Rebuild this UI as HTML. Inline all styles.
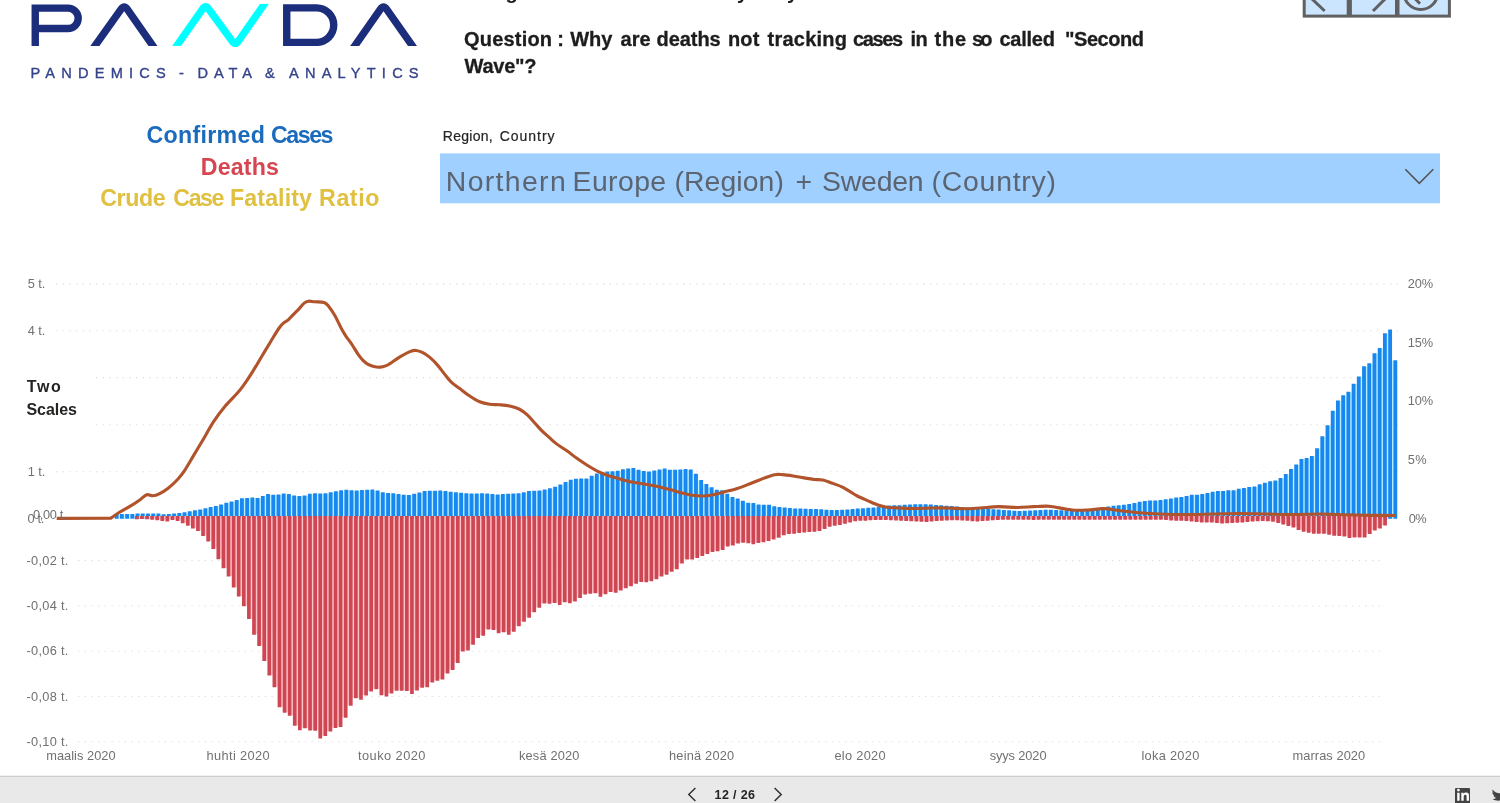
<!DOCTYPE html>
<html><head><meta charset="utf-8"><title>PANDA</title>
<style>html,body{margin:0;padding:0;background:#fff;overflow:hidden}svg{display:block}text{font-family:"Liberation Sans",sans-serif}</style>
</head><body>
<svg width="1500" height="803" viewBox="0 0 1500 803" style="will-change:transform">
<rect width="1500" height="803" fill="#fff"/>
<g stroke="#e0e0e0" stroke-width="1.1" stroke-dasharray="1.4 5.27" fill="none">
<path d="M56 283.9H1398"/>
<path d="M56 330.8H1398"/>
<path d="M96 377.6H1398"/>
<path d="M96 424.7H1398"/>
<path d="M56 471.8H1398"/>
<path d="M78 560.6H1383"/>
<path d="M78 606.0H1383"/>
<path d="M78 651.2H1383"/>
<path d="M78 696.5H1383"/>
<path d="M78 741.7H1383"/>
</g>
<path fill="#b8f0ff" d="M118.3 514.5h1.97V518.8h-1.97zM123.52 514.5h1.97V518.8h-1.97zM128.74 514.5h1.97V518.8h-1.97zM133.96 514.5h1.97V518.8h-1.97zM139.18 514h1.97V518.8h-1.97zM144.4 514h1.97V518.8h-1.97zM149.61 514h1.97V518.8h-1.97zM154.83 514h1.97V518.8h-1.97zM160.05 514.8h1.97V518.8h-1.97zM165.27 514.8h1.97V518.8h-1.97zM170.49 514.5h1.97V518.8h-1.97zM175.71 514h1.97V518.8h-1.97zM180.93 513.5h1.97V518.8h-1.97zM186.15 512.7h1.97V518.8h-1.97zM191.37 511.8h1.97V518.8h-1.97zM196.59 510.8h1.97V518.8h-1.97zM201.8 509.9h1.97V518.8h-1.97zM207.02 508.8h1.97V518.8h-1.97zM212.24 507.5h1.97V518.8h-1.97zM217.46 506.5h1.97V518.8h-1.97zM222.68 504.9h1.97V518.8h-1.97zM227.9 503.3h1.97V518.8h-1.97zM233.12 502h1.97V518.8h-1.97zM238.34 500.6h1.97V518.8h-1.97zM243.56 498.8h1.97V518.8h-1.97zM248.78 498.5h1.97V518.8h-1.97zM253.99 498.5h1.97V518.8h-1.97zM259.21 498.5h1.97V518.8h-1.97zM264.43 496.4h1.97V518.8h-1.97zM269.65 495.3h1.97V518.8h-1.97zM274.87 495.3h1.97V518.8h-1.97zM280.09 495.01h1.97V518.8h-1.97zM285.31 494.5h1.97V518.8h-1.97zM290.53 495.9h1.97V518.8h-1.97zM295.75 496.5h1.97V518.8h-1.97zM300.97 496.5h1.97V518.8h-1.97zM306.18 495.98h1.97V518.8h-1.97zM311.4 494.24h1.97V518.8h-1.97zM316.62 494.1h1.97V518.8h-1.97zM321.84 494.1h1.97V518.8h-1.97zM327.06 493.77h1.97V518.8h-1.97zM332.28 492.68h1.97V518.8h-1.97zM337.5 491.82h1.97V518.8h-1.97zM342.72 490.81h1.97V518.8h-1.97zM347.94 490.68h1.97V518.8h-1.97zM353.16 490.92h1.97V518.8h-1.97zM358.37 490.92h1.97V518.8h-1.97zM363.59 490.44h1.97V518.8h-1.97zM368.81 490.18h1.97V518.8h-1.97zM374.03 491.12h1.97V518.8h-1.97zM379.25 492.82h1.97V518.8h-1.97zM384.47 493.56h1.97V518.8h-1.97zM389.69 493.83h1.97V518.8h-1.97zM394.91 494.48h1.97V518.8h-1.97zM400.13 495.17h1.97V518.8h-1.97zM405.35 495.44h1.97V518.8h-1.97zM410.56 495.44h1.97V518.8h-1.97zM415.78 494.22h1.97V518.8h-1.97zM421 492.91h1.97V518.8h-1.97zM426.22 491.52h1.97V518.8h-1.97zM431.44 491.33h1.97V518.8h-1.97zM436.66 491.15h1.97V518.8h-1.97zM441.88 491.57h1.97V518.8h-1.97zM447.1 492.22h1.97V518.8h-1.97zM452.32 492.76h1.97V518.8h-1.97zM457.54 493.28h1.97V518.8h-1.97zM462.75 493.8h1.97V518.8h-1.97zM467.97 494.1h1.97V518.8h-1.97zM473.19 494.1h1.97V518.8h-1.97zM478.41 493.9h1.97V518.8h-1.97zM483.63 494.02h1.97V518.8h-1.97zM488.85 494.54h1.97V518.8h-1.97zM494.07 494.91h1.97V518.8h-1.97zM499.29 494.91h1.97V518.8h-1.97zM504.51 494.59h1.97V518.8h-1.97zM509.73 494.28h1.97V518.8h-1.97zM514.94 494h1.97V518.8h-1.97zM520.16 493.74h1.97V518.8h-1.97zM525.38 492.81h1.97V518.8h-1.97zM530.6 491.48h1.97V518.8h-1.97zM535.82 491.22h1.97V518.8h-1.97zM541.04 490.95h1.97V518.8h-1.97zM546.26 489.91h1.97V518.8h-1.97zM551.48 488.86h1.97V518.8h-1.97zM556.7 487.14h1.97V518.8h-1.97zM561.92 485.02h1.97V518.8h-1.97zM567.13 482.41h1.97V518.8h-1.97zM572.35 480.35h1.97V518.8h-1.97zM577.57 479.13h1.97V518.8h-1.97zM582.79 478.97h1.97V518.8h-1.97zM588.01 478.97h1.97V518.8h-1.97zM593.23 476.19h1.97V518.8h-1.97zM598.45 474.05h1.97V518.8h-1.97zM603.67 472.42h1.97V518.8h-1.97zM608.89 471.88h1.97V518.8h-1.97zM614.11 471.67h1.97V518.8h-1.97zM619.32 471.22h1.97V518.8h-1.97zM624.54 469.83h1.97V518.8h-1.97zM629.76 468.9h1.97V518.8h-1.97zM634.98 470.27h1.97V518.8h-1.97zM640.2 471.38h1.97V518.8h-1.97zM645.42 471.98h1.97V518.8h-1.97zM650.64 471.98h1.97V518.8h-1.97zM655.86 471.11h1.97V518.8h-1.97zM661.08 469.92h1.97V518.8h-1.97zM666.3 470.14h1.97V518.8h-1.97zM671.51 470.17h1.97V518.8h-1.97zM676.73 470.17h1.97V518.8h-1.97zM681.95 469.93h1.97V518.8h-1.97zM687.17 470.08h1.97V518.8h-1.97zM692.39 474.18h1.97V518.8h-1.97zM697.61 480.46h1.97V518.8h-1.97zM702.83 484.55h1.97V518.8h-1.97zM708.05 487.65h1.97V518.8h-1.97zM713.27 490.19h1.97V518.8h-1.97zM718.49 490.75h1.97V518.8h-1.97zM723.7 494.14h1.97V518.8h-1.97zM728.92 497.54h1.97V518.8h-1.97zM734.14 498.9h1.97V518.8h-1.97zM739.36 501.2h1.97V518.8h-1.97zM744.58 503.3h1.97V518.8h-1.97zM749.8 503.5h1.97V518.8h-1.97zM755.02 505.11h1.97V518.8h-1.97zM760.24 505.37h1.97V518.8h-1.97zM765.46 505.37h1.97V518.8h-1.97zM770.68 506.65h1.97V518.8h-1.97zM775.89 507.38h1.97V518.8h-1.97zM781.11 508.11h1.97V518.8h-1.97zM786.33 508.59h1.97V518.8h-1.97zM791.55 508.91h1.97V518.8h-1.97zM796.77 509.11h1.97V518.8h-1.97zM801.99 509.32h1.97V518.8h-1.97zM807.21 509.45h1.97V518.8h-1.97zM812.43 509.55h1.97V518.8h-1.97zM817.65 509.73h1.97V518.8h-1.97zM822.87 510.15h1.97V518.8h-1.97zM828.08 510.57h1.97V518.8h-1.97zM833.3 510.57h1.97V518.8h-1.97zM838.52 510.56h1.97V518.8h-1.97zM843.74 510.35h1.97V518.8h-1.97zM848.96 510.1h1.97V518.8h-1.97zM854.18 509.58h1.97V518.8h-1.97zM859.4 509.06h1.97V518.8h-1.97zM864.62 508.65h1.97V518.8h-1.97zM869.84 508.34h1.97V518.8h-1.97zM875.06 508.02h1.97V518.8h-1.97zM880.27 507.29h1.97V518.8h-1.97zM885.49 506.56h1.97V518.8h-1.97zM890.71 506.07h1.97V518.8h-1.97zM895.93 505.86h1.97V518.8h-1.97zM901.15 505.65h1.97V518.8h-1.97zM906.37 505.35h1.97V518.8h-1.97zM911.59 505.04h1.97V518.8h-1.97zM916.81 504.83h1.97V518.8h-1.97zM922.03 504.83h1.97V518.8h-1.97zM927.25 505.08h1.97V518.8h-1.97zM932.46 505.4h1.97V518.8h-1.97zM937.68 505.74h1.97V518.8h-1.97zM942.9 506.15h1.97V518.8h-1.97zM948.12 506.57h1.97V518.8h-1.97zM953.34 507.06h1.97V518.8h-1.97zM958.56 507.58h1.97V518.8h-1.97zM963.78 508.08h1.97V518.8h-1.97zM969 508.39h1.97V518.8h-1.97zM974.22 508.7h1.97V518.8h-1.97zM979.44 509.02h1.97V518.8h-1.97zM984.65 509.33h1.97V518.8h-1.97zM989.87 509.64h1.97V518.8h-1.97zM995.09 510.06h1.97V518.8h-1.97zM1000.31 510.48h1.97V518.8h-1.97zM1005.53 510.85h1.97V518.8h-1.97zM1010.75 511.16h1.97V518.8h-1.97zM1015.97 511.47h1.97V518.8h-1.97zM1021.19 511.47h1.97V518.8h-1.97zM1026.41 511.31h1.97V518.8h-1.97zM1031.62 511.1h1.97V518.8h-1.97zM1036.84 510.85h1.97V518.8h-1.97zM1042.06 510.54h1.97V518.8h-1.97zM1047.28 510.34h1.97V518.8h-1.97zM1052.5 510.54h1.97V518.8h-1.97zM1057.72 510.78h1.97V518.8h-1.97zM1062.94 511.09h1.97V518.8h-1.97zM1068.16 511.41h1.97V518.8h-1.97zM1073.38 511.41h1.97V518.8h-1.97zM1078.6 511.35h1.97V518.8h-1.97zM1083.82 511.15h1.97V518.8h-1.97zM1089.03 510.82h1.97V518.8h-1.97zM1094.25 509.77h1.97V518.8h-1.97zM1099.47 508.73h1.97V518.8h-1.97zM1104.69 507.81h1.97V518.8h-1.97zM1109.91 506.97h1.97V518.8h-1.97zM1115.13 506.15h1.97V518.8h-1.97zM1120.35 505.74h1.97V518.8h-1.97zM1125.57 505.32h1.97V518.8h-1.97zM1130.79 504.6h1.97V518.8h-1.97zM1136 503.56h1.97V518.8h-1.97zM1141.22 502.35h1.97V518.8h-1.97zM1146.44 501.47h1.97V518.8h-1.97zM1151.66 501.08h1.97V518.8h-1.97zM1156.88 500.99h1.97V518.8h-1.97zM1162.1 500.5h1.97V518.8h-1.97zM1167.32 499.63h1.97V518.8h-1.97zM1172.54 498.97h1.97V518.8h-1.97zM1177.76 498.09h1.97V518.8h-1.97zM1182.98 497.44h1.97V518.8h-1.97zM1188.19 496.54h1.97V518.8h-1.97zM1193.41 495.31h1.97V518.8h-1.97zM1198.63 495.31h1.97V518.8h-1.97zM1203.85 494.41h1.97V518.8h-1.97zM1209.07 493.51h1.97V518.8h-1.97zM1214.29 492.32h1.97V518.8h-1.97zM1219.51 491.42h1.97V518.8h-1.97zM1224.73 491.42h1.97V518.8h-1.97zM1229.95 490.82h1.97V518.8h-1.97zM1235.17 490.82h1.97V518.8h-1.97zM1240.38 489.33h1.97V518.8h-1.97zM1245.6 488.43h1.97V518.8h-1.97zM1250.82 487.53h1.97V518.8h-1.97zM1256.04 486.94h1.97V518.8h-1.97zM1261.26 484.84h1.97V518.8h-1.97zM1266.48 483.35h1.97V518.8h-1.97zM1271.7 481.85h1.97V518.8h-1.97zM1276.92 480.95h1.97V518.8h-1.97zM1282.14 478.56h1.97V518.8h-1.97zM1287.36 474.38h1.97V518.8h-1.97zM1292.58 469.59h1.97V518.8h-1.97zM1297.79 465.11h1.97V518.8h-1.97zM1303.01 459.42h1.97V518.8h-1.97zM1308.23 458.53h1.97V518.8h-1.97zM1313.45 456.43h1.97V518.8h-1.97zM1318.67 448.66h1.97V518.8h-1.97zM1323.89 436.7h1.97V518.8h-1.97zM1329.11 425.63h1.97V518.8h-1.97zM1334.33 411.28h1.97V518.8h-1.97zM1339.55 401.11h1.97V518.8h-1.97zM1344.77 395.73h1.97V518.8h-1.97zM1349.98 392.14h1.97V518.8h-1.97zM1355.2 384.36h1.97V518.8h-1.97zM1360.42 376.89h1.97V518.8h-1.97zM1365.64 366.72h1.97V518.8h-1.97zM1370.86 363.73h1.97V518.8h-1.97zM1376.08 353.86h1.97V518.8h-1.97zM1381.3 348.48h1.97V518.8h-1.97zM1386.52 333.83h1.97V518.8h-1.97zM1391.74 360.74h1.97V518.8h-1.97z"/>
<path fill="#1888f0" d="M114.75 514h3.85V518.8h-3.85zM119.97 514h3.85V518.8h-3.85zM125.19 514h3.85V518.8h-3.85zM130.41 514h3.85V518.8h-3.85zM135.63 513.5h3.85V518.8h-3.85zM140.84 513.5h3.85V518.8h-3.85zM146.06 513.5h3.85V518.8h-3.85zM151.28 513.5h3.85V518.8h-3.85zM156.5 513.5h3.85V518.8h-3.85zM161.72 514.3h3.85V518.8h-3.85zM166.94 514h3.85V518.8h-3.85zM172.16 513.5h3.85V518.8h-3.85zM177.38 513h3.85V518.8h-3.85zM182.6 512.2h3.85V518.8h-3.85zM187.82 511.3h3.85V518.8h-3.85zM193.03 510.3h3.85V518.8h-3.85zM198.25 509.4h3.85V518.8h-3.85zM203.47 508.3h3.85V518.8h-3.85zM208.69 507h3.85V518.8h-3.85zM213.91 506h3.85V518.8h-3.85zM219.13 504.4h3.85V518.8h-3.85zM224.35 502.8h3.85V518.8h-3.85zM229.57 501.5h3.85V518.8h-3.85zM234.79 500.1h3.85V518.8h-3.85zM240.01 498.3h3.85V518.8h-3.85zM245.22 498h3.85V518.8h-3.85zM250.44 497.5h3.85V518.8h-3.85zM255.66 498h3.85V518.8h-3.85zM260.88 495.9h3.85V518.8h-3.85zM266.1 493.88h3.85V518.8h-3.85zM271.32 494.8h3.85V518.8h-3.85zM276.54 494.51h3.85V518.8h-3.85zM281.76 493.6h3.85V518.8h-3.85zM286.98 494h3.85V518.8h-3.85zM292.2 495.4h3.85V518.8h-3.85zM297.42 496h3.85V518.8h-3.85zM302.63 495.48h3.85V518.8h-3.85zM307.85 493.74h3.85V518.8h-3.85zM313.07 493.16h3.85V518.8h-3.85zM318.29 493.6h3.85V518.8h-3.85zM323.51 493.27h3.85V518.8h-3.85zM328.73 492.18h3.85V518.8h-3.85zM333.95 491.32h3.85V518.8h-3.85zM339.17 490.31h3.85V518.8h-3.85zM344.39 489.72h3.85V518.8h-3.85zM349.61 490.18h3.85V518.8h-3.85zM354.82 490.42h3.85V518.8h-3.85zM360.04 489.94h3.85V518.8h-3.85zM365.26 489.68h3.85V518.8h-3.85zM370.48 489.59h3.85V518.8h-3.85zM375.7 490.62h3.85V518.8h-3.85zM380.92 492.32h3.85V518.8h-3.85zM386.14 493.06h3.85V518.8h-3.85zM391.36 493.33h3.85V518.8h-3.85zM396.58 493.98h3.85V518.8h-3.85zM401.8 494.67h3.85V518.8h-3.85zM407.01 494.94h3.85V518.8h-3.85zM412.23 493.72h3.85V518.8h-3.85zM417.45 492.41h3.85V518.8h-3.85zM422.67 491.02h3.85V518.8h-3.85zM427.89 490.83h3.85V518.8h-3.85zM433.11 490.65h3.85V518.8h-3.85zM438.33 490.48h3.85V518.8h-3.85zM443.55 491.07h3.85V518.8h-3.85zM448.77 491.72h3.85V518.8h-3.85zM453.99 492.26h3.85V518.8h-3.85zM459.2 492.78h3.85V518.8h-3.85zM464.42 493.3h3.85V518.8h-3.85zM469.64 493.6h3.85V518.8h-3.85zM474.86 493.4h3.85V518.8h-3.85zM480.08 493.19h3.85V518.8h-3.85zM485.3 493.52h3.85V518.8h-3.85zM490.52 494.04h3.85V518.8h-3.85zM495.74 494.41h3.85V518.8h-3.85zM500.96 494.09h3.85V518.8h-3.85zM506.18 493.78h3.85V518.8h-3.85zM511.39 493.5h3.85V518.8h-3.85zM516.61 493.24h3.85V518.8h-3.85zM521.83 492.31h3.85V518.8h-3.85zM527.05 490.98h3.85V518.8h-3.85zM532.27 490.72h3.85V518.8h-3.85zM537.49 490.45h3.85V518.8h-3.85zM542.71 489.41h3.85V518.8h-3.85zM547.93 488.36h3.85V518.8h-3.85zM553.15 486.64h3.85V518.8h-3.85zM558.37 484.52h3.85V518.8h-3.85zM563.58 481.91h3.85V518.8h-3.85zM568.8 479.85h3.85V518.8h-3.85zM574.02 478.63h3.85V518.8h-3.85zM579.24 478.47h3.85V518.8h-3.85zM584.46 478.47h3.85V518.8h-3.85zM589.68 475.69h3.85V518.8h-3.85zM594.9 473.55h3.85V518.8h-3.85zM600.12 471.92h3.85V518.8h-3.85zM605.34 471.38h3.85V518.8h-3.85zM610.56 471.17h3.85V518.8h-3.85zM615.77 470.72h3.85V518.8h-3.85zM620.99 469.33h3.85V518.8h-3.85zM626.21 468.4h3.85V518.8h-3.85zM631.43 468.03h3.85V518.8h-3.85zM636.65 469.77h3.85V518.8h-3.85zM641.87 470.88h3.85V518.8h-3.85zM647.09 471.48h3.85V518.8h-3.85zM652.31 470.61h3.85V518.8h-3.85zM657.53 469.42h3.85V518.8h-3.85zM662.75 468.6h3.85V518.8h-3.85zM667.96 469.64h3.85V518.8h-3.85zM673.18 469.67h3.85V518.8h-3.85zM678.4 469.43h3.85V518.8h-3.85zM683.62 468.91h3.85V518.8h-3.85zM688.84 469.58h3.85V518.8h-3.85zM694.06 473.68h3.85V518.8h-3.85zM699.28 479.96h3.85V518.8h-3.85zM704.5 484.05h3.85V518.8h-3.85zM709.72 487.15h3.85V518.8h-3.85zM714.94 489.69h3.85V518.8h-3.85zM720.15 490.25h3.85V518.8h-3.85zM725.37 493.64h3.85V518.8h-3.85zM730.59 497.04h3.85V518.8h-3.85zM735.81 498.4h3.85V518.8h-3.85zM741.03 500.7h3.85V518.8h-3.85zM746.25 502.8h3.85V518.8h-3.85zM751.47 503h3.85V518.8h-3.85zM756.69 504.61h3.85V518.8h-3.85zM761.91 504.87h3.85V518.8h-3.85zM767.13 504.87h3.85V518.8h-3.85zM772.34 506.15h3.85V518.8h-3.85zM777.56 506.88h3.85V518.8h-3.85zM782.78 507.61h3.85V518.8h-3.85zM788 508.09h3.85V518.8h-3.85zM793.22 508.41h3.85V518.8h-3.85zM798.44 508.61h3.85V518.8h-3.85zM803.66 508.82h3.85V518.8h-3.85zM808.88 508.95h3.85V518.8h-3.85zM814.1 509.05h3.85V518.8h-3.85zM819.32 509.23h3.85V518.8h-3.85zM824.53 509.65h3.85V518.8h-3.85zM829.75 510.07h3.85V518.8h-3.85zM834.97 510.06h3.85V518.8h-3.85zM840.19 509.85h3.85V518.8h-3.85zM845.41 509.6h3.85V518.8h-3.85zM850.63 509.08h3.85V518.8h-3.85zM855.85 508.56h3.85V518.8h-3.85zM861.07 508.15h3.85V518.8h-3.85zM866.29 507.84h3.85V518.8h-3.85zM871.51 507.52h3.85V518.8h-3.85zM876.72 506.79h3.85V518.8h-3.85zM881.94 506.06h3.85V518.8h-3.85zM887.16 505.57h3.85V518.8h-3.85zM892.38 505.36h3.85V518.8h-3.85zM897.6 505.15h3.85V518.8h-3.85zM902.82 504.85h3.85V518.8h-3.85zM908.04 504.54h3.85V518.8h-3.85zM913.26 504.33h3.85V518.8h-3.85zM918.48 504.33h3.85V518.8h-3.85zM923.7 504.33h3.85V518.8h-3.85zM928.91 504.58h3.85V518.8h-3.85zM934.13 504.9h3.85V518.8h-3.85zM939.35 505.24h3.85V518.8h-3.85zM944.57 505.65h3.85V518.8h-3.85zM949.79 506.07h3.85V518.8h-3.85zM955.01 506.56h3.85V518.8h-3.85zM960.23 507.08h3.85V518.8h-3.85zM965.45 507.58h3.85V518.8h-3.85zM970.67 507.89h3.85V518.8h-3.85zM975.89 508.2h3.85V518.8h-3.85zM981.1 508.52h3.85V518.8h-3.85zM986.32 508.83h3.85V518.8h-3.85zM991.54 509.14h3.85V518.8h-3.85zM996.76 509.56h3.85V518.8h-3.85zM1001.98 509.98h3.85V518.8h-3.85zM1007.2 510.35h3.85V518.8h-3.85zM1012.42 510.66h3.85V518.8h-3.85zM1017.64 510.97h3.85V518.8h-3.85zM1022.86 510.81h3.85V518.8h-3.85zM1028.08 510.6h3.85V518.8h-3.85zM1033.29 510.35h3.85V518.8h-3.85zM1038.51 510.04h3.85V518.8h-3.85zM1043.73 509.73h3.85V518.8h-3.85zM1048.95 509.84h3.85V518.8h-3.85zM1054.17 510.04h3.85V518.8h-3.85zM1059.39 510.28h3.85V518.8h-3.85zM1064.61 510.59h3.85V518.8h-3.85zM1069.83 510.91h3.85V518.8h-3.85zM1075.05 510.85h3.85V518.8h-3.85zM1080.27 510.65h3.85V518.8h-3.85zM1085.48 510.32h3.85V518.8h-3.85zM1090.7 509.27h3.85V518.8h-3.85zM1095.92 508.23h3.85V518.8h-3.85zM1101.14 507.31h3.85V518.8h-3.85zM1106.36 506.47h3.85V518.8h-3.85zM1111.58 505.65h3.85V518.8h-3.85zM1116.8 505.24h3.85V518.8h-3.85zM1122.02 504.82h3.85V518.8h-3.85zM1127.24 504.1h3.85V518.8h-3.85zM1132.45 503.06h3.85V518.8h-3.85zM1137.67 501.85h3.85V518.8h-3.85zM1142.89 500.97h3.85V518.8h-3.85zM1148.11 500.58h3.85V518.8h-3.85zM1153.33 500.49h3.85V518.8h-3.85zM1158.55 500h3.85V518.8h-3.85zM1163.77 499.13h3.85V518.8h-3.85zM1168.99 498.47h3.85V518.8h-3.85zM1174.21 497.59h3.85V518.8h-3.85zM1179.43 496.94h3.85V518.8h-3.85zM1184.64 496.04h3.85V518.8h-3.85zM1189.86 494.81h3.85V518.8h-3.85zM1195.08 494.81h3.85V518.8h-3.85zM1200.3 493.91h3.85V518.8h-3.85zM1205.52 493.01h3.85V518.8h-3.85zM1210.74 491.82h3.85V518.8h-3.85zM1215.96 490.92h3.85V518.8h-3.85zM1221.18 490.92h3.85V518.8h-3.85zM1226.4 490.32h3.85V518.8h-3.85zM1231.62 490.32h3.85V518.8h-3.85zM1236.84 488.83h3.85V518.8h-3.85zM1242.05 487.93h3.85V518.8h-3.85zM1247.27 487.03h3.85V518.8h-3.85zM1252.49 486.44h3.85V518.8h-3.85zM1257.71 484.34h3.85V518.8h-3.85zM1262.93 482.85h3.85V518.8h-3.85zM1268.15 481.35h3.85V518.8h-3.85zM1273.37 480.45h3.85V518.8h-3.85zM1278.59 478.06h3.85V518.8h-3.85zM1283.81 473.88h3.85V518.8h-3.85zM1289.03 469.09h3.85V518.8h-3.85zM1294.24 464.61h3.85V518.8h-3.85zM1299.46 458.92h3.85V518.8h-3.85zM1304.68 458.03h3.85V518.8h-3.85zM1309.9 455.93h3.85V518.8h-3.85zM1315.12 448.16h3.85V518.8h-3.85zM1320.34 436.2h3.85V518.8h-3.85zM1325.56 425.13h3.85V518.8h-3.85zM1330.78 410.78h3.85V518.8h-3.85zM1336 400.61h3.85V518.8h-3.85zM1341.22 395.23h3.85V518.8h-3.85zM1346.43 391.64h3.85V518.8h-3.85zM1351.65 383.86h3.85V518.8h-3.85zM1356.87 376.39h3.85V518.8h-3.85zM1362.09 366.22h3.85V518.8h-3.85zM1367.31 363.23h3.85V518.8h-3.85zM1372.53 353.36h3.85V518.8h-3.85zM1377.75 347.98h3.85V518.8h-3.85zM1382.97 333.33h3.85V518.8h-3.85zM1388.19 329.44h3.85V518.8h-3.85zM1393.4 360.24h3.85V518.8h-3.85z"/>
<path fill="#ffc4ca" d="M138.36 515.9h1.99V518.55h-1.99zM143.46 515.9h1.99V518.55h-1.99zM148.55 515.9h1.99V518.74h-1.99zM153.65 515.9h1.99V519.27h-1.99zM158.74 515.9h1.99V519.78h-1.99zM163.84 515.9h1.99V520.42h-1.99zM168.93 515.9h1.99V519.48h-1.99zM174.03 515.9h1.99V519.48h-1.99zM179.12 515.9h1.99V520.47h-1.99zM184.22 515.9h1.99V522.78h-1.99zM189.31 515.9h1.99V525.28h-1.99zM194.41 515.9h1.99V527.91h-1.99zM199.5 515.9h1.99V530.61h-1.99zM204.6 515.9h1.99V535.43h-1.99zM209.69 515.9h1.99V540.93h-1.99zM214.79 515.9h1.99V548.44h-1.99zM219.88 515.9h1.99V558.63h-1.99zM224.98 515.9h1.99V567.64h-1.99zM230.07 515.9h1.99V576.04h-1.99zM235.17 515.9h1.99V587.1h-1.99zM240.26 515.9h1.99V596.11h-1.99zM245.36 515.9h1.99V605.7h-1.99zM250.45 515.9h1.99V618.58h-1.99zM255.55 515.9h1.99V634.15h-1.99zM260.64 515.9h1.99V645.57h-1.99zM265.74 515.9h1.99V660.54h-1.99zM270.83 515.9h1.99V674.89h-1.99zM275.93 515.9h1.99V686.73h-1.99zM281.02 515.9h1.99V706.8h-1.99zM286.12 515.9h1.99V712.14h-1.99zM291.21 515.9h1.99V715.33h-1.99zM296.31 515.9h1.99V725.35h-1.99zM301.4 515.9h1.99V727.69h-1.99zM306.5 515.9h1.99V727.69h-1.99zM311.59 515.9h1.99V730h-1.99zM316.69 515.9h1.99V730.34h-1.99zM321.78 515.9h1.99V735.45h-1.99zM326.88 515.9h1.99V731h-1.99zM331.98 515.9h1.99V727.57h-1.99zM337.07 515.9h1.99V726.49h-1.99zM342.16 515.9h1.99V717.29h-1.99zM347.26 515.9h1.99V705.28h-1.99zM352.35 515.9h1.99V697.85h-1.99zM357.45 515.9h1.99V697.85h-1.99zM362.54 515.9h1.99V695.03h-1.99zM367.64 515.9h1.99V690.93h-1.99zM372.73 515.9h1.99V688.69h-1.99zM377.83 515.9h1.99V688.69h-1.99zM382.92 515.9h1.99V694.86h-1.99zM388.02 515.9h1.99V692.98h-1.99zM393.11 515.9h1.99V690.26h-1.99zM398.21 515.9h1.99V690.26h-1.99zM403.3 515.9h1.99V690.26h-1.99zM408.4 515.9h1.99V690.61h-1.99zM413.5 515.9h1.99V689.95h-1.99zM418.59 515.9h1.99V687.27h-1.99zM423.69 515.9h1.99V686.71h-1.99zM428.78 515.9h1.99V681.99h-1.99zM433.88 515.9h1.99V680.33h-1.99zM438.97 515.9h1.99V679.01h-1.99zM444.06 515.9h1.99V673.01h-1.99zM449.16 515.9h1.99V669.57h-1.99zM454.25 515.9h1.99V662.39h-1.99zM459.35 515.9h1.99V650.92h-1.99zM464.44 515.9h1.99V650.03h-1.99zM469.54 515.9h1.99V644.14h-1.99zM474.63 515.9h1.99V637.48h-1.99zM479.73 515.9h1.99V635.27h-1.99zM484.82 515.9h1.99V628.98h-1.99zM489.92 515.9h1.99V628.98h-1.99zM495.01 515.9h1.99V629.58h-1.99zM500.11 515.9h1.99V631.73h-1.99zM505.2 515.9h1.99V631.73h-1.99zM510.3 515.9h1.99V631.36h-1.99zM515.4 515.9h1.99V625.79h-1.99zM520.49 515.9h1.99V621.26h-1.99zM525.59 515.9h1.99V617.15h-1.99zM530.68 515.9h1.99V611.85h-1.99zM535.78 515.9h1.99V607.27h-1.99zM540.87 515.9h1.99V602.88h-1.99zM545.97 515.9h1.99V602.88h-1.99zM551.06 515.9h1.99V602.52h-1.99zM556.16 515.9h1.99V602.52h-1.99zM561.25 515.9h1.99V601.64h-1.99zM566.35 515.9h1.99V601.64h-1.99zM571.44 515.9h1.99V601.1h-1.99zM576.54 515.9h1.99V597.55h-1.99zM581.63 515.9h1.99V593.97h-1.99zM586.73 515.9h1.99V593.32h-1.99zM591.82 515.9h1.99V592.79h-1.99zM596.92 515.9h1.99V592.79h-1.99zM602.01 515.9h1.99V593.64h-1.99zM607.11 515.9h1.99V591.57h-1.99zM612.2 515.9h1.99V591.57h-1.99zM617.3 515.9h1.99V589.95h-1.99zM622.39 515.9h1.99V587.85h-1.99zM627.49 515.9h1.99V585.83h-1.99zM632.58 515.9h1.99V583.24h-1.99zM637.68 515.9h1.99V581.6h-1.99zM642.77 515.9h1.99V581.6h-1.99zM647.87 515.9h1.99V580.65h-1.99zM652.96 515.9h1.99V578.71h-1.99zM658.06 515.9h1.99V575.89h-1.99zM663.15 515.9h1.99V574.14h-1.99zM668.25 515.9h1.99V571.28h-1.99zM673.34 515.9h1.99V568.7h-1.99zM678.44 515.9h1.99V562.92h-1.99zM683.53 515.9h1.99V558.96h-1.99zM688.62 515.9h1.99V558.96h-1.99zM693.72 515.9h1.99V557.57h-1.99zM698.82 515.9h1.99V555.62h-1.99zM703.91 515.9h1.99V553.41h-1.99zM709 515.9h1.99V551.42h-1.99zM714.1 515.9h1.99V550.83h-1.99zM719.2 515.9h1.99V549.57h-1.99zM724.29 515.9h1.99V546.07h-1.99zM729.38 515.9h1.99V544.88h-1.99zM734.48 515.9h1.99V543.05h-1.99zM739.58 515.9h1.99V542.22h-1.99zM744.67 515.9h1.99V542.22h-1.99zM749.76 515.9h1.99V542.69h-1.99zM754.86 515.9h1.99V542.58h-1.99zM759.96 515.9h1.99V541.69h-1.99zM765.05 515.9h1.99V540.53h-1.99zM770.14 515.9h1.99V539.1h-1.99zM775.24 515.9h1.99V537.13h-1.99zM780.34 515.9h1.99V534.72h-1.99zM785.43 515.9h1.99V533.5h-1.99zM790.52 515.9h1.99V533.31h-1.99zM795.62 515.9h1.99V532.48h-1.99zM800.72 515.9h1.99V532.04h-1.99zM805.81 515.9h1.99V531.53h-1.99zM810.9 515.9h1.99V531.33h-1.99zM816 515.9h1.99V530.49h-1.99zM821.1 515.9h1.99V528.52h-1.99zM826.19 515.9h1.99V526.21h-1.99zM831.28 515.9h1.99V525.19h-1.99zM836.38 515.9h1.99V524.4h-1.99zM841.48 515.9h1.99V523.24h-1.99zM846.57 515.9h1.99V522h-1.99zM851.66 515.9h1.99V520.73h-1.99zM856.76 515.9h1.99V520.2h-1.99zM861.86 515.9h1.99V520.2h-1.99zM866.95 515.9h1.99V519.83h-1.99zM872.04 515.9h1.99V519.4h-1.99zM877.14 515.9h1.99V519.4h-1.99zM882.24 515.9h1.99V519.4h-1.99zM887.33 515.9h1.99V519.4h-1.99zM892.42 515.9h1.99V519.65h-1.99zM897.52 515.9h1.99V519.96h-1.99zM902.62 515.9h1.99V520.24h-1.99zM907.71 515.9h1.99V520.45h-1.99zM912.81 515.9h1.99V520.65h-1.99zM917.9 515.9h1.99V520.91h-1.99zM923 515.9h1.99V521.22h-1.99zM928.09 515.9h1.99V521.04h-1.99zM933.19 515.9h1.99V520.53h-1.99zM938.28 515.9h1.99V520.13h-1.99zM943.38 515.9h1.99V519.92h-1.99zM948.47 515.9h1.99V519.72h-1.99zM953.57 515.9h1.99V519.72h-1.99zM958.66 515.9h1.99V519.82h-1.99zM963.75 515.9h1.99V520.02h-1.99zM968.85 515.9h1.99V520.25h-1.99zM973.95 515.9h1.99V520.63h-1.99zM979.04 515.9h1.99V520.56h-1.99zM984.13 515.9h1.99V520.14h-1.99zM989.23 515.9h1.99V519.71h-1.99zM994.33 515.9h1.99V519.39h-1.99zM999.42 515.9h1.99V519.2h-1.99zM1004.51 515.9h1.99V519.2h-1.99zM1009.61 515.9h1.99V519.2h-1.99zM1014.71 515.9h1.99V519.2h-1.99zM1019.8 515.9h1.99V519.2h-1.99zM1024.89 515.9h1.99V519.2h-1.99zM1029.99 515.9h1.99V519.2h-1.99zM1035.09 515.9h1.99V519.2h-1.99zM1040.18 515.9h1.99V519.2h-1.99zM1045.27 515.9h1.99V519.2h-1.99zM1050.37 515.9h1.99V519.2h-1.99zM1055.46 515.9h1.99V519.2h-1.99zM1060.56 515.9h1.99V519.2h-1.99zM1065.65 515.9h1.99V519.2h-1.99zM1070.75 515.9h1.99V519.2h-1.99zM1075.85 515.9h1.99V519.2h-1.99zM1080.94 515.9h1.99V519.2h-1.99zM1086.03 515.9h1.99V519.2h-1.99zM1091.13 515.9h1.99V519.2h-1.99zM1096.22 515.9h1.99V519.2h-1.99zM1101.32 515.9h1.99V519.2h-1.99zM1106.41 515.9h1.99V519.2h-1.99zM1111.51 515.9h1.99V519.2h-1.99zM1116.6 515.9h1.99V519.2h-1.99zM1121.7 515.9h1.99V519.2h-1.99zM1126.79 515.9h1.99V519.2h-1.99zM1131.89 515.9h1.99V519.2h-1.99zM1136.98 515.9h1.99V519.2h-1.99zM1142.08 515.9h1.99V519.2h-1.99zM1147.17 515.9h1.99V519.2h-1.99zM1152.27 515.9h1.99V519.2h-1.99zM1157.36 515.9h1.99V519.2h-1.99zM1162.46 515.9h1.99V519.2h-1.99zM1167.55 515.9h1.99V519.48h-1.99zM1172.65 515.9h1.99V520.08h-1.99zM1177.74 515.9h1.99V520.13h-1.99zM1182.84 515.9h1.99V520.13h-1.99zM1187.93 515.9h1.99V520.54h-1.99zM1193.03 515.9h1.99V520.99h-1.99zM1198.12 515.9h1.99V521.44h-1.99zM1203.22 515.9h1.99V521.89h-1.99zM1208.31 515.9h1.99V521.92h-1.99zM1213.41 515.9h1.99V521.92h-1.99zM1218.5 515.9h1.99V522.48h-1.99zM1223.6 515.9h1.99V522.84h-1.99zM1228.69 515.9h1.99V522.54h-1.99zM1233.79 515.9h1.99V522.24h-1.99zM1238.88 515.9h1.99V521.94h-1.99zM1243.98 515.9h1.99V521.5h-1.99zM1249.07 515.9h1.99V521.05h-1.99zM1254.17 515.9h1.99V520.74h-1.99zM1259.26 515.9h1.99V520.44h-1.99zM1264.36 515.9h1.99V520.44h-1.99zM1269.45 515.9h1.99V520.86h-1.99zM1274.55 515.9h1.99V521.31h-1.99zM1279.64 515.9h1.99V522.62h-1.99zM1284.74 515.9h1.99V523.97h-1.99zM1289.83 515.9h1.99V525.46h-1.99zM1294.93 515.9h1.99V526.96h-1.99zM1300.02 515.9h1.99V529.47h-1.99zM1305.12 515.9h1.99V531.32h-1.99zM1310.21 515.9h1.99V532.26h-1.99zM1315.31 515.9h1.99V533.16h-1.99zM1320.4 515.9h1.99V533.18h-1.99zM1325.5 515.9h1.99V533.18h-1.99zM1330.59 515.9h1.99V534.21h-1.99zM1335.69 515.9h1.99V535.26h-1.99zM1340.78 515.9h1.99V535.59h-1.99zM1345.88 515.9h1.99V535.97h-1.99zM1350.97 515.9h1.99V537.1h-1.99zM1356.07 515.9h1.99V536.9h-1.99zM1361.16 515.9h1.99V536.89h-1.99zM1366.26 515.9h1.99V533.46h-1.99zM1371.35 515.9h1.99V529.97h-1.99zM1376.45 515.9h1.99V528h-1.99zM1381.54 515.9h1.99V524.91h-1.99z"/>
<path fill="#cf4653" d="M134.97 515.9h3.7V519.3h-3.7zM140.06 515.9h3.7V519.05h-3.7zM145.16 515.9h3.7V519.24h-3.7zM150.25 515.9h3.7V519.77h-3.7zM155.34 515.9h3.7V520.28h-3.7zM160.44 515.9h3.7V520.92h-3.7zM165.53 515.9h3.7V521.39h-3.7zM170.63 515.9h3.7V519.98h-3.7zM175.72 515.9h3.7V520.97h-3.7zM180.82 515.9h3.7V523.28h-3.7zM185.91 515.9h3.7V525.78h-3.7zM191.01 515.9h3.7V528.41h-3.7zM196.1 515.9h3.7V531.11h-3.7zM201.2 515.9h3.7V535.93h-3.7zM206.29 515.9h3.7V541.43h-3.7zM211.39 515.9h3.7V548.94h-3.7zM216.48 515.9h3.7V559.13h-3.7zM221.58 515.9h3.7V568.14h-3.7zM226.67 515.9h3.7V576.54h-3.7zM231.77 515.9h3.7V587.6h-3.7zM236.86 515.9h3.7V596.61h-3.7zM241.96 515.9h3.7V606.2h-3.7zM247.05 515.9h3.7V619.08h-3.7zM252.15 515.9h3.7V634.65h-3.7zM257.24 515.9h3.7V646.07h-3.7zM262.34 515.9h3.7V661.04h-3.7zM267.43 515.9h3.7V675.39h-3.7zM272.53 515.9h3.7V687.23h-3.7zM277.62 515.9h3.7V707.3h-3.7zM282.72 515.9h3.7V712.64h-3.7zM287.81 515.9h3.7V715.83h-3.7zM292.91 515.9h3.7V725.85h-3.7zM298 515.9h3.7V730.13h-3.7zM303.1 515.9h3.7V728.19h-3.7zM308.19 515.9h3.7V730.5h-3.7zM313.29 515.9h3.7V730.84h-3.7zM318.38 515.9h3.7V738.45h-3.7zM323.48 515.9h3.7V735.95h-3.7zM328.57 515.9h3.7V731.5h-3.7zM333.67 515.9h3.7V728.07h-3.7zM338.76 515.9h3.7V726.99h-3.7zM343.86 515.9h3.7V717.79h-3.7zM348.95 515.9h3.7V705.78h-3.7zM354.05 515.9h3.7V698.35h-3.7zM359.14 515.9h3.7V699.73h-3.7zM364.24 515.9h3.7V695.53h-3.7zM369.33 515.9h3.7V691.43h-3.7zM374.43 515.9h3.7V689.19h-3.7zM379.52 515.9h3.7V695.36h-3.7zM384.62 515.9h3.7V696.48h-3.7zM389.71 515.9h3.7V693.48h-3.7zM394.81 515.9h3.7V690.76h-3.7zM399.9 515.9h3.7V690.76h-3.7zM405 515.9h3.7V691.11h-3.7zM410.09 515.9h3.7V693.98h-3.7zM415.19 515.9h3.7V690.45h-3.7zM420.28 515.9h3.7V687.77h-3.7zM425.38 515.9h3.7V687.21h-3.7zM430.47 515.9h3.7V682.49h-3.7zM435.57 515.9h3.7V680.83h-3.7zM440.66 515.9h3.7V679.51h-3.7zM445.76 515.9h3.7V673.51h-3.7zM450.85 515.9h3.7V670.07h-3.7zM455.95 515.9h3.7V662.89h-3.7zM461.04 515.9h3.7V651.42h-3.7zM466.14 515.9h3.7V650.53h-3.7zM471.23 515.9h3.7V644.64h-3.7zM476.33 515.9h3.7V637.98h-3.7zM481.42 515.9h3.7V635.77h-3.7zM486.52 515.9h3.7V629.48h-3.7zM491.61 515.9h3.7V630.08h-3.7zM496.71 515.9h3.7V633.17h-3.7zM501.8 515.9h3.7V632.23h-3.7zM506.9 515.9h3.7V634.69h-3.7zM512 515.9h3.7V631.86h-3.7zM517.09 515.9h3.7V626.29h-3.7zM522.18 515.9h3.7V621.76h-3.7zM527.28 515.9h3.7V617.65h-3.7zM532.38 515.9h3.7V612.35h-3.7zM537.47 515.9h3.7V607.77h-3.7zM542.56 515.9h3.7V603.38h-3.7zM547.66 515.9h3.7V603.77h-3.7zM552.75 515.9h3.7V603.02h-3.7zM557.85 515.9h3.7V604.88h-3.7zM562.94 515.9h3.7V602.14h-3.7zM568.04 515.9h3.7V603.19h-3.7zM573.13 515.9h3.7V601.6h-3.7zM578.23 515.9h3.7V598.05h-3.7zM583.32 515.9h3.7V594.47h-3.7zM588.42 515.9h3.7V593.82h-3.7zM593.51 515.9h3.7V593.29h-3.7zM598.61 515.9h3.7V596.82h-3.7zM603.7 515.9h3.7V594.14h-3.7zM608.8 515.9h3.7V592.07h-3.7zM613.89 515.9h3.7V592.82h-3.7zM618.99 515.9h3.7V590.45h-3.7zM624.08 515.9h3.7V588.35h-3.7zM629.18 515.9h3.7V586.33h-3.7zM634.27 515.9h3.7V583.74h-3.7zM639.37 515.9h3.7V582.1h-3.7zM644.46 515.9h3.7V582.33h-3.7zM649.56 515.9h3.7V581.15h-3.7zM654.65 515.9h3.7V579.21h-3.7zM659.75 515.9h3.7V576.39h-3.7zM664.84 515.9h3.7V574.64h-3.7zM669.94 515.9h3.7V571.78h-3.7zM675.03 515.9h3.7V569.2h-3.7zM680.13 515.9h3.7V563.42h-3.7zM685.22 515.9h3.7V559.46h-3.7zM690.32 515.9h3.7V559.54h-3.7zM695.41 515.9h3.7V558.07h-3.7zM700.51 515.9h3.7V556.12h-3.7zM705.6 515.9h3.7V553.91h-3.7zM710.7 515.9h3.7V551.92h-3.7zM715.79 515.9h3.7V551.33h-3.7zM720.89 515.9h3.7V550.07h-3.7zM725.98 515.9h3.7V546.57h-3.7zM731.08 515.9h3.7V545.38h-3.7zM736.17 515.9h3.7V543.55h-3.7zM741.27 515.9h3.7V542.72h-3.7zM746.36 515.9h3.7V543.19h-3.7zM751.46 515.9h3.7V544.25h-3.7zM756.55 515.9h3.7V543.08h-3.7zM761.65 515.9h3.7V542.19h-3.7zM766.74 515.9h3.7V541.03h-3.7zM771.84 515.9h3.7V539.6h-3.7zM776.93 515.9h3.7V537.63h-3.7zM782.03 515.9h3.7V535.22h-3.7zM787.12 515.9h3.7V534h-3.7zM792.22 515.9h3.7V533.81h-3.7zM797.31 515.9h3.7V532.98h-3.7zM802.41 515.9h3.7V532.54h-3.7zM807.5 515.9h3.7V532.03h-3.7zM812.6 515.9h3.7V531.83h-3.7zM817.69 515.9h3.7V530.99h-3.7zM822.79 515.9h3.7V529.02h-3.7zM827.88 515.9h3.7V526.71h-3.7zM832.98 515.9h3.7V525.69h-3.7zM838.07 515.9h3.7V524.9h-3.7zM843.17 515.9h3.7V523.74h-3.7zM848.26 515.9h3.7V522.5h-3.7zM853.36 515.9h3.7V521.23h-3.7zM858.45 515.9h3.7V520.7h-3.7zM863.55 515.9h3.7V520.7h-3.7zM868.64 515.9h3.7V520.33h-3.7zM873.74 515.9h3.7V519.9h-3.7zM878.83 515.9h3.7V519.9h-3.7zM883.93 515.9h3.7V519.9h-3.7zM889.02 515.9h3.7V520.15h-3.7zM894.12 515.9h3.7V520.46h-3.7zM899.21 515.9h3.7V520.74h-3.7zM904.31 515.9h3.7V520.95h-3.7zM909.4 515.9h3.7V521.15h-3.7zM914.5 515.9h3.7V521.41h-3.7zM919.59 515.9h3.7V521.72h-3.7zM924.69 515.9h3.7V522.03h-3.7zM929.78 515.9h3.7V521.54h-3.7zM934.88 515.9h3.7V521.03h-3.7zM939.97 515.9h3.7V520.63h-3.7zM945.07 515.9h3.7V520.42h-3.7zM950.16 515.9h3.7V520.22h-3.7zM955.26 515.9h3.7V520.32h-3.7zM960.35 515.9h3.7V520.52h-3.7zM965.45 515.9h3.7V520.75h-3.7zM970.54 515.9h3.7V521.13h-3.7zM975.64 515.9h3.7V521.49h-3.7zM980.73 515.9h3.7V521.06h-3.7zM985.83 515.9h3.7V520.64h-3.7zM990.92 515.9h3.7V520.21h-3.7zM996.02 515.9h3.7V519.89h-3.7zM1001.11 515.9h3.7V519.7h-3.7zM1006.21 515.9h3.7V519.7h-3.7zM1011.3 515.9h3.7V519.7h-3.7zM1016.4 515.9h3.7V519.7h-3.7zM1021.49 515.9h3.7V519.7h-3.7zM1026.59 515.9h3.7V519.7h-3.7zM1031.69 515.9h3.7V519.89h-3.7zM1036.78 515.9h3.7V519.7h-3.7zM1041.88 515.9h3.7V519.7h-3.7zM1046.97 515.9h3.7V519.7h-3.7zM1052.07 515.9h3.7V519.7h-3.7zM1057.16 515.9h3.7V519.7h-3.7zM1062.26 515.9h3.7V519.7h-3.7zM1067.35 515.9h3.7V519.7h-3.7zM1072.45 515.9h3.7V519.7h-3.7zM1077.54 515.9h3.7V519.7h-3.7zM1082.63 515.9h3.7V519.7h-3.7zM1087.73 515.9h3.7V519.7h-3.7zM1092.83 515.9h3.7V519.7h-3.7zM1097.92 515.9h3.7V519.7h-3.7zM1103.02 515.9h3.7V519.7h-3.7zM1108.11 515.9h3.7V519.7h-3.7zM1113.2 515.9h3.7V519.7h-3.7zM1118.3 515.9h3.7V519.7h-3.7zM1123.39 515.9h3.7V519.7h-3.7zM1128.49 515.9h3.7V519.7h-3.7zM1133.59 515.9h3.7V519.7h-3.7zM1138.68 515.9h3.7V519.7h-3.7zM1143.78 515.9h3.7V519.7h-3.7zM1148.87 515.9h3.7V519.7h-3.7zM1153.96 515.9h3.7V519.7h-3.7zM1159.06 515.9h3.7V519.7h-3.7zM1164.15 515.9h3.7V519.98h-3.7zM1169.25 515.9h3.7V520.58h-3.7zM1174.35 515.9h3.7V520.63h-3.7zM1179.44 515.9h3.7V520.63h-3.7zM1184.54 515.9h3.7V521.04h-3.7zM1189.63 515.9h3.7V521.49h-3.7zM1194.72 515.9h3.7V521.94h-3.7zM1199.82 515.9h3.7V522.39h-3.7zM1204.91 515.9h3.7V522.42h-3.7zM1210.01 515.9h3.7V522.42h-3.7zM1215.11 515.9h3.7V522.98h-3.7zM1220.2 515.9h3.7V523.58h-3.7zM1225.3 515.9h3.7V523.34h-3.7zM1230.39 515.9h3.7V523.04h-3.7zM1235.49 515.9h3.7V522.74h-3.7zM1240.58 515.9h3.7V522.44h-3.7zM1245.67 515.9h3.7V522h-3.7zM1250.77 515.9h3.7V521.55h-3.7zM1255.87 515.9h3.7V521.24h-3.7zM1260.96 515.9h3.7V520.94h-3.7zM1266.06 515.9h3.7V521.36h-3.7zM1271.15 515.9h3.7V521.81h-3.7zM1276.25 515.9h3.7V523.12h-3.7zM1281.34 515.9h3.7V524.47h-3.7zM1286.43 515.9h3.7V525.96h-3.7zM1291.53 515.9h3.7V527.46h-3.7zM1296.62 515.9h3.7V529.97h-3.7zM1301.72 515.9h3.7V531.82h-3.7zM1306.82 515.9h3.7V532.76h-3.7zM1311.91 515.9h3.7V533.66h-3.7zM1317.01 515.9h3.7V533.68h-3.7zM1322.1 515.9h3.7V533.68h-3.7zM1327.19 515.9h3.7V534.71h-3.7zM1332.29 515.9h3.7V535.76h-3.7zM1337.38 515.9h3.7V536.09h-3.7zM1342.48 515.9h3.7V536.47h-3.7zM1347.58 515.9h3.7V537.89h-3.7zM1352.67 515.9h3.7V537.6h-3.7zM1357.77 515.9h3.7V537.4h-3.7zM1362.86 515.9h3.7V537.39h-3.7zM1367.95 515.9h3.7V533.96h-3.7zM1373.05 515.9h3.7V530.47h-3.7zM1378.14 515.9h3.7V528.5h-3.7zM1383.24 515.9h3.7V525.41h-3.7z"/>
<path d="M56.7 518.4L110.89 518.1C112.19 517.21 115.3 514.88 118.67 512.8C122.05 510.73 127.49 507.88 131.12 505.65C134.75 503.42 137.87 501.24 140.46 499.42C143.05 497.61 144.61 495.38 146.69 494.75C148.76 494.13 150.84 495.84 152.91 495.69C154.98 495.53 156.54 495.12 159.13 493.82C161.73 492.52 165.36 490.34 168.47 487.91C171.58 485.47 175.22 481.94 177.81 479.19C180.4 476.44 181.44 475.3 184.03 471.41C186.63 467.52 190.26 461.04 193.37 455.85C196.48 450.66 199.34 445.99 202.71 440.29C206.08 434.58 209.97 427.16 213.6 421.61C217.23 416.06 220.6 411.65 224.49 406.98C228.38 402.32 233.83 397.13 236.94 393.6C240.06 390.07 240.57 389.45 243.17 385.82C245.76 382.19 249.39 376.74 252.51 371.81C255.62 366.89 258.73 361.44 261.84 356.25C264.95 351.07 268.33 345.36 271.18 340.69C274.03 336.02 276.89 331.2 278.96 328.24C281.04 325.28 282.07 324.35 283.63 322.95C285.19 321.55 286.74 321.19 288.3 319.84C289.85 318.49 291.15 316.73 292.97 314.86C294.78 312.99 297.38 310.55 299.19 308.63C301.01 306.71 302.3 304.59 303.86 303.34C305.42 302.1 306.71 301.42 308.53 301.16C310.34 300.9 312.16 301.58 314.75 301.79C317.35 301.99 321.76 301.63 324.09 302.41C326.42 303.19 326.94 304.22 328.76 306.46C330.57 308.69 332.91 312.16 334.98 315.79C337.06 319.42 339.39 324.87 341.21 328.24C343.02 331.61 344.06 333.27 345.88 336.02C347.69 338.77 350.03 341.62 352.1 344.74C354.18 347.85 356.51 352.1 358.33 354.7C360.14 357.29 361.44 358.74 362.99 360.3C364.55 361.85 365.85 363 367.66 364.03C369.48 365.07 371.81 366 373.89 366.52C375.96 367.04 378.04 367.3 380.11 367.15C382.19 366.99 384.69 366.17 386.34 365.59C387.98 365.01 387.7 365.09 389.97 363.64C392.23 362.19 396.61 358.91 399.94 356.91C403.26 354.92 407.2 352.76 409.9 351.68C412.6 350.6 414.06 350.31 416.13 350.43C418.21 350.56 420.08 351.26 422.36 352.43C424.65 353.59 427.35 355.33 429.84 357.41C432.33 359.49 434.82 362.06 437.31 364.89C439.81 367.71 442.51 371.53 444.79 374.36C447.07 377.18 448.53 379.46 451.02 381.83C453.51 384.2 456.63 386.19 459.74 388.56C462.86 390.93 466.39 393.83 469.71 396.04C473.03 398.24 476.35 400.4 479.68 401.77C483 403.14 486.32 403.76 489.64 404.26C492.97 404.76 496.29 404.47 499.61 404.76C502.93 405.05 506.26 405.26 509.58 406C512.9 406.75 516.64 407.79 519.55 409.24C522.45 410.7 524.53 412.48 527.02 414.72C529.51 416.97 532.01 420 534.5 422.7C536.99 425.4 539.48 428.43 541.97 430.92C544.47 433.41 546.96 435.45 549.45 437.65C551.94 439.85 554.02 441.93 556.92 444.13C559.83 446.33 563.57 448.49 566.89 450.86C570.22 453.22 573.54 455.97 576.86 458.33C580.18 460.7 583.51 462.98 586.83 465.06C590.15 467.14 593.47 469.13 596.8 470.79C600.12 472.45 603.03 473.7 606.76 475.03C610.5 476.36 615.07 477.6 619.22 478.77C623.38 479.93 627.53 481.13 631.68 482.01C635.84 482.88 639.99 483.29 644.14 484C648.29 484.71 652.18 485.26 656.6 486.24C661.02 487.22 666.54 488.77 670.67 489.87C674.79 490.96 677.78 491.91 681.33 492.8C684.89 493.69 688.44 494.67 692 495.2C695.56 495.73 699.11 496.09 702.67 496C706.22 495.91 709.78 495.33 713.33 494.67C716.89 494 720 493.02 724 492C728 490.98 732.89 489.96 737.33 488.53C741.78 487.11 746.22 485.2 750.67 483.47C755.11 481.73 760 479.6 764 478.13C768 476.67 771.56 475.24 774.67 474.67C777.78 474.09 779.56 474.44 782.67 474.67C785.78 474.89 789.78 475.47 793.33 476C796.89 476.53 800.44 477.29 804 477.87C807.56 478.44 811.56 479.11 814.67 479.47C817.78 479.82 820 479.47 822.67 480C825.33 480.53 827.56 481.56 830.67 482.67C833.78 483.78 838.22 485.24 841.33 486.67C844.44 488.09 846.67 489.64 849.33 491.2C852 492.76 854.22 494.4 857.33 496C860.44 497.6 864.44 499.24 868 500.8C871.56 502.36 875.56 504.27 878.67 505.33C881.78 506.4 883.11 506.76 886.67 507.2C890.22 507.64 895.11 507.78 900 508C904.89 508.22 910.67 508.53 916 508.53C921.33 508.53 926.67 508.09 932 508C937.33 507.91 942.67 507.87 948 508C953.33 508.13 958.67 508.8 964 508.8C969.33 508.8 974.22 508.36 980 508C985.78 507.64 992.44 506.76 998.67 506.67C1004.89 506.58 1011.56 507.47 1017.33 507.47C1023.11 507.47 1028.44 506.89 1033.33 506.67C1038.22 506.44 1043.33 506.11 1046.67 506.13C1050 506.16 1049.11 506.16 1053.33 506.8C1057.56 507.44 1066.22 509.47 1072 510C1077.78 510.53 1082.67 510.22 1088 510C1093.33 509.78 1098.67 508.53 1104 508.67C1109.33 508.8 1114.22 510.13 1120 510.8C1125.78 511.47 1132 512.13 1138.67 512.67C1145.33 513.2 1152 513.69 1160 514C1168 514.31 1177.78 514.53 1186.67 514.53C1195.56 514.53 1204.44 514.18 1213.33 514C1222.22 513.82 1231.11 513.47 1240 513.47C1248.89 513.47 1257.78 513.82 1266.67 514C1275.56 514.18 1284.44 514.53 1293.33 514.53C1302.22 514.53 1311.11 513.96 1320 514C1328.89 514.04 1337.78 514.58 1346.67 514.8C1355.56 515.02 1365.11 515.22 1373.33 515.33C1381.56 515.44 1392.22 515.44 1396 515.47" fill="none" stroke="#b1532b" stroke-width="3.1" stroke-linejoin="round"/>
<text x="27.7" y="288.1" font-size="12.8" fill="#717171" textLength="17.7" lengthAdjust="spacing">5 t.</text>
<text x="27.7" y="335.1" font-size="12.8" fill="#717171" textLength="17.7" lengthAdjust="spacing">4 t.</text>
<text x="27.7" y="476.1" font-size="12.8" fill="#717171" textLength="17.7" lengthAdjust="spacing">1 t.</text>
<text x="27.6" y="523.4" font-size="12.8" fill="#717171" textLength="16.6" lengthAdjust="spacing">0 t.</text>
<text x="33" y="519.3" font-size="12.8" fill="#717171" textLength="33.5" lengthAdjust="spacing">0,00 t.</text>
<text x="26.6" y="564.8" font-size="12.8" fill="#717171" textLength="41.7" lengthAdjust="spacing">-0,02 t.</text>
<text x="26.6" y="610.2" font-size="12.8" fill="#717171" textLength="41.7" lengthAdjust="spacing">-0,04 t.</text>
<text x="26.6" y="655.4" font-size="12.8" fill="#717171" textLength="41.7" lengthAdjust="spacing">-0,06 t.</text>
<text x="26.6" y="700.7" font-size="12.8" fill="#717171" textLength="41.7" lengthAdjust="spacing">-0,08 t.</text>
<text x="26.6" y="745.9" font-size="12.8" fill="#717171" textLength="41.7" lengthAdjust="spacing">-0,10 t.</text>
<text x="1407.8" y="288.1" font-size="12.8" fill="#717171" textLength="25.4" lengthAdjust="spacing">20%</text>
<text x="1407.8" y="347.1" font-size="12.8" fill="#717171" textLength="25.4" lengthAdjust="spacing">15%</text>
<text x="1407.8" y="405.3" font-size="12.8" fill="#717171" textLength="25.4" lengthAdjust="spacing">10%</text>
<text x="1407.8" y="463.8" font-size="12.8" fill="#717171" textLength="18.8" lengthAdjust="spacing">5%</text>
<text x="1408.8" y="522.8" font-size="12.8" fill="#717171" textLength="17.8" lengthAdjust="spacing">0%</text>
<text x="46.2" y="759.5" font-size="12.8" fill="#717171" textLength="69.4" lengthAdjust="spacing">maalis 2020</text>
<text x="206.5" y="759.5" font-size="12.8" fill="#717171" textLength="63.2" lengthAdjust="spacing">huhti 2020</text>
<text x="358" y="759.5" font-size="12.8" fill="#717171" textLength="67.4" lengthAdjust="spacing">touko 2020</text>
<text x="519" y="759.5" font-size="12.8" fill="#717171" textLength="60.4" lengthAdjust="spacing">kesä 2020</text>
<text x="669" y="759.5" font-size="12.8" fill="#717171" textLength="65.2" lengthAdjust="spacing">heinä 2020</text>
<text x="834.4" y="759.5" font-size="12.8" fill="#717171" textLength="51.2" lengthAdjust="spacing">elo 2020</text>
<text x="989.7" y="759.5" font-size="12.8" fill="#717171" textLength="56.8" lengthAdjust="spacing">syys 2020</text>
<text x="1141.5" y="759.5" font-size="12.8" fill="#717171" textLength="57.8" lengthAdjust="spacing">loka 2020</text>
<text x="1292.5" y="759.5" font-size="12.8" fill="#717171" textLength="72.7" lengthAdjust="spacing">marras 2020</text>
<text x="26.8" y="391.5" font-size="16" fill="#252423" font-weight="bold" textLength="34" lengthAdjust="spacing">Two</text>
<text x="26.4" y="414.8" font-size="16" fill="#252423" font-weight="bold" textLength="50.6" lengthAdjust="spacing">Scales</text>
<text x="146.6" y="142.6" font-size="23.2" fill="#1a6bbd" font-weight="bold" textLength="118.2" lengthAdjust="spacing">Confirmed</text>
<text x="271" y="142.6" font-size="23.2" fill="#1a6bbd" font-weight="bold" textLength="62.5" lengthAdjust="spacing">Cases</text>
<text x="200.7" y="174.8" font-size="23.2" fill="#d64550" font-weight="bold" textLength="78.3" lengthAdjust="spacing">Deaths</text>
<text x="100.3" y="205.8" font-size="23.2" fill="#e0c040" font-weight="bold" textLength="65.3" lengthAdjust="spacing">Crude</text>
<text x="173.3" y="205.8" font-size="23.2" fill="#e0c040" font-weight="bold" textLength="51.2" lengthAdjust="spacing">Case</text>
<text x="230.1" y="205.8" font-size="23.2" fill="#e0c040" font-weight="bold" textLength="81.8" lengthAdjust="spacing">Fatality</text>
<text x="319.1" y="205.8" font-size="23.2" fill="#e0c040" font-weight="bold" textLength="60.2" lengthAdjust="spacing">Ratio</text>
<text x="442.8" y="141.4" font-size="14" fill="#252423" textLength="49.8" lengthAdjust="spacing" stroke="#252423" stroke-width="0.2">Region,</text>
<text x="499.7" y="141.4" font-size="14" fill="#252423" textLength="54.9" lengthAdjust="spacing" stroke="#252423" stroke-width="0.2">Country</text>
<rect x="440" y="153.4" width="1000" height="49.9" fill="#a0d0ff"/>
<text x="445.8" y="191.2" font-size="28.4" fill="#5b6470" textLength="119.9" lengthAdjust="spacing">Northern</text>
<text x="572.6" y="191.2" font-size="28.4" fill="#5b6470" textLength="93.5" lengthAdjust="spacing">Europe</text>
<text x="674.5" y="191.2" font-size="28.4" fill="#5b6470" textLength="109.4" lengthAdjust="spacing">(Region)</text>
<text x="795.6" y="191.2" font-size="28.4" fill="#5b6470">+</text>
<text x="822" y="191.2" font-size="28.4" fill="#5b6470" textLength="101.6" lengthAdjust="spacing">Sweden</text>
<text x="931.5" y="191.2" font-size="28.4" fill="#5b6470" textLength="124.5" lengthAdjust="spacing">(Country)</text>
<path d="M1405.3 169.3L1419.3 183.3L1433.3 169.3" fill="none" stroke="#555" stroke-width="1.6"/>
<text x="505.5" y="-0.6" font-size="20" font-weight="bold" fill="#1d1d1d">g</text>
<text x="737" y="-0.6" font-size="20" font-weight="bold" fill="#1d1d1d">y</text>
<text x="787" y="-0.6" font-size="20" font-weight="bold" fill="#1d1d1d">y.</text>
<text x="464.1" y="45.8" font-size="20" fill="#1d1d1d" font-weight="bold" textLength="87.9" lengthAdjust="spacing" stroke="#1d1d1d" stroke-width="0.3">Question</text>
<text x="557.2" y="45.8" font-size="20" fill="#1d1d1d" font-weight="bold" stroke="#1d1d1d" stroke-width="0.3">:</text>
<text x="570.3" y="45.8" font-size="20" fill="#1d1d1d" font-weight="bold" textLength="42.1" lengthAdjust="spacing" stroke="#1d1d1d" stroke-width="0.3">Why</text>
<text x="620.5" y="45.8" font-size="20" fill="#1d1d1d" font-weight="bold" textLength="30.1" lengthAdjust="spacing" stroke="#1d1d1d" stroke-width="0.3">are</text>
<text x="656.6" y="45.8" font-size="20" fill="#1d1d1d" font-weight="bold" textLength="64.1" lengthAdjust="spacing" stroke="#1d1d1d" stroke-width="0.3">deaths</text>
<text x="727.9" y="45.8" font-size="20" fill="#1d1d1d" font-weight="bold" textLength="31.5" lengthAdjust="spacing" stroke="#1d1d1d" stroke-width="0.3">not</text>
<text x="767.5" y="45.8" font-size="20" fill="#1d1d1d" font-weight="bold" textLength="79.5" lengthAdjust="spacing" stroke="#1d1d1d" stroke-width="0.3">tracking</text>
<text x="853.1" y="45.8" font-size="20" fill="#1d1d1d" font-weight="bold" textLength="50" lengthAdjust="spacing" stroke="#1d1d1d" stroke-width="0.3">cases</text>
<text x="910.4" y="45.8" font-size="20" fill="#1d1d1d" font-weight="bold" textLength="17.2" lengthAdjust="spacing" stroke="#1d1d1d" stroke-width="0.3">in</text>
<text x="934.6" y="45.8" font-size="20" fill="#1d1d1d" font-weight="bold" textLength="31.5" lengthAdjust="spacing" stroke="#1d1d1d" stroke-width="0.3">the</text>
<text x="972.1" y="45.8" font-size="20" fill="#1d1d1d" font-weight="bold" textLength="20.4" lengthAdjust="spacing" stroke="#1d1d1d" stroke-width="0.3">so</text>
<text x="999.5" y="45.8" font-size="20" fill="#1d1d1d" font-weight="bold" textLength="55.4" lengthAdjust="spacing" stroke="#1d1d1d" stroke-width="0.3">called</text>
<text x="1065" y="45.8" font-size="20" fill="#1d1d1d" font-weight="bold" textLength="79" lengthAdjust="spacing" stroke="#1d1d1d" stroke-width="0.3">"Second</text>
<text x="464.5" y="72.9" font-size="20" fill="#1d1d1d" font-weight="bold" textLength="72" lengthAdjust="spacing" stroke="#1d1d1d" stroke-width="0.3">Wave"?</text>
<rect x="1302.7" y="-10" width="148.2" height="27.6" fill="#606060"/>
<rect x="1305.7" y="-10" width="41" height="24.6" fill="#cce5ff"/>
<rect x="1351.9" y="-10" width="43.1" height="24.6" fill="#cce5ff"/>
<rect x="1399.5" y="-10" width="48.4" height="24.6" fill="#cce5ff"/>
<path d="M1311 -2L1324.7 11M1386 -2L1373 11M1414 -2.4L1420 3.7" stroke="#606060" stroke-width="3" fill="none"/>
<circle cx="1420.8" cy="-7.4" r="16.9" fill="none" stroke="#606060" stroke-width="3"/>
<defs><clipPath id="lc"><rect x="0" y="0" width="440" height="46"/></clipPath><clipPath id="nc2"><rect x="160" y="0" width="120" height="50"/></clipPath></defs>
<g fill="none" stroke="#1c2d7c" stroke-width="7.4" stroke-linejoin="round" clip-path="url(#lc)">
<path d="M35.25 50V8.1H68A10.2 10.2 0 0 1 68 28.5H35.25" stroke-linejoin="miter"/>
<path d="M90.21 52.52L121.3 8.87Q124.2 4.8 127.06 8.9L157.58 52.56"/>
<path d="M286.75 7.85H316.5A17.1 17.1 0 0 1 316.5 42.35H286.75Z" stroke-linejoin="miter"/>
<path d="M350.12 52.56L380.64 8.9Q383.5 4.8 386.38 8.89L417.1 52.54"/>
</g>
<g clip-path="url(#nc2)"><path d="M172.01 52.55L202.63 8.8Q205.5 4.7 208.46 8.73L232.44 41.47Q235.4 45.5 238.26 41.4L268.97 -2.66" fill="none" stroke="#00ffff" stroke-width="7.3" stroke-linejoin="round"/></g>
<rect x="160" y="45.9" width="40" height="10" fill="#fff"/><rect x="250" y="-6" width="30" height="9.9" fill="#fff"/>
<text x="30.5" y="78.2" font-size="14.6" fill="#34438a" textLength="135.3" lengthAdjust="spacing" stroke="#34438a" stroke-width="0.35">PANDEMICS</text>
<text x="179" y="78.2" font-size="14.6" fill="#34438a" stroke="#34438a" stroke-width="0.35">-</text>
<text x="197.4" y="78.2" font-size="14.6" fill="#34438a" textLength="54.6" lengthAdjust="spacing" stroke="#34438a" stroke-width="0.35">DATA</text>
<text x="265" y="78.2" font-size="14.6" fill="#34438a" stroke="#34438a" stroke-width="0.35">&amp;</text>
<text x="289" y="78.2" font-size="14.6" fill="#34438a" textLength="129.6" lengthAdjust="spacing" stroke="#34438a" stroke-width="0.35">ANALYTICS</text>
<rect x="0" y="776" width="1500" height="27" fill="#e9e9e9"/>
<rect x="0" y="775.7" width="1500" height="1.3" fill="#cdcdcd"/>
<path d="M695.4 788L688.8 794.5L695.4 801M774.6 788L781.2 794.5L774.6 801" fill="none" stroke="#333" stroke-width="1.5"/>
<text x="714.6" y="799" font-size="12.5" fill="#252423" font-weight="bold" textLength="40.4" lengthAdjust="spacing">12 / 26</text>
<rect x="1455" y="788" width="15" height="16" rx="1" fill="#444"/>
<g transform="translate(0 -1.6)"><path d="M1457.2 794.4h2.4v8h-2.4zM1461.3 794.4h2.3v1.1c.5-.8 1.4-1.3 2.6-1.3 2 0 2.8 1.2 2.8 3.2v5h-2.4v-4.4c0-1-.3-1.7-1.3-1.7s-1.6.7-1.6 1.8v4.3h-2.4z" fill="#fff"/><circle cx="1458.4" cy="791.7" r="1.4" fill="#fff"/></g>
<path d="M1492.6 789.4c1.5 2.2 4 3.6 7.4 3.8v7.3c-2.8 0.4-5.2-0.1-7.6-1.4 1.6 0 2.8-0.4 3.9-1.3-1.5-0.2-2.4-1-2.9-2.2h1.4c-1.6-0.6-2.5-1.7-2.6-3.3 0.5 0.3 1 0.4 1.5 0.4-1.3-1-1.7-2.2-1.1-3.3z" fill="#444"/>
</svg></body></html>
